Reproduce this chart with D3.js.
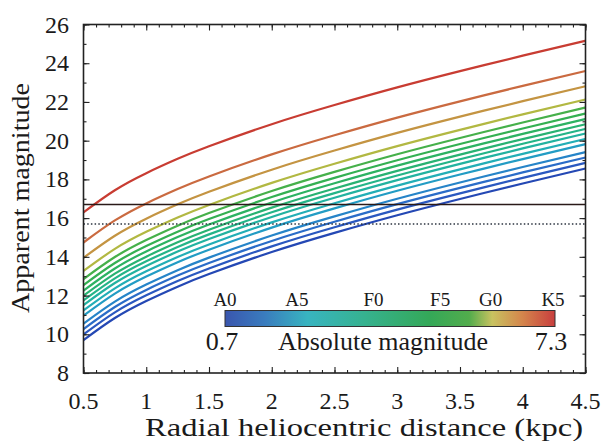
<!DOCTYPE html>
<html>
<head>
<meta charset="utf-8">
<script src="https://cdn.jsdelivr.net/npm/d3@7"></script>
<style>
  html, body { margin: 0; padding: 0; background: #fff; }
  svg { display: block; }
</style>
</head>
<body>
<svg id="chart" width="608" height="441"></svg>
<script>
// Heliocentric distance samples (kpc)
const distanceKpc = [0.5, 0.75, 1, 1.25, 1.5, 2, 2.5, 3, 3.5, 4, 4.5];
// Apparent magnitude of the brightest (A0) track at each sampled distance
const trackA0 = [9.70, 10.84, 11.72, 12.46, 13.11, 14.25, 15.24, 16.15, 16.99, 17.79, 18.56];
// Absolute magnitude of each track, faintest last
const absMag = [0.70, 0.99, 1.27, 1.55, 1.96, 2.23, 2.51, 2.75, 2.99, 3.26, 3.54, 3.85, 4.27, 4.95, 5.74, 7.30];
// Limiting magnitudes (solid / dotted reference levels)
const limitSolid = 16.7;
const limitDotted = 15.7;
// Axis ticks
const xTicks = [0.5, 1, 1.5, 2, 2.5, 3, 3.5, 4, 4.5];
const yTicks = [8, 10, 12, 14, 16, 18, 20, 22, 24, 26];
// Spectral-type markers along the colour bar, with their bar position (0..1)
const specTypes = ["A0", "A5", "F0", "F5", "G0", "K5"];
const specPos = [0.0, 0.218, 0.45, 0.652, 0.805, 0.994];
const barRange = ["0.7", "7.3"];

// Track colours, in the same order as absMag
const lineColors = ["#2448b4", "#2a58c0", "#2a6cc8", "#2684c8", "#229cc4", "#22aeb6",
                    "#22b2a0", "#24b488", "#28b272", "#2cb262", "#34b052", "#46b04a",
                    "#b2b842", "#c49442", "#ca6a40", "#c83c32"];
// Colour-bar gradient stops
const barStops = [
  [0.00, "#3a56ae"], [0.12, "#3a7cbe"], [0.25, "#38b4c0"], [0.42, "#36b290"],
  [0.62, "#34a858"], [0.74, "#52ac4c"], [0.81, "#c8c260"], [0.90, "#d4864c"], [1.00, "#c83e3e"]
];

const FONT = "'Liberation Serif', 'DejaVu Serif', serif";

const svg = d3.select("#chart");
const M = { left: 83.5, right: 585.5, top: 24.5, bottom: 373 };

const x = d3.scaleLinear().domain([0.5, 4.5]).range([M.left, M.right]);
const y = d3.scaleLinear().domain([8, 26]).range([M.bottom, M.top]);

const plot = svg.append("g");

// Tracks
const line = d3.line()
  .x(d => x(d[0]))
  .y(d => y(d[1]))
  .curve(d3.curveNatural);

absMag.forEach((m, i) => {
  const pts = distanceKpc.map((d, k) => [d, trackA0[k] + (m - absMag[0])]);
  plot.append("path")
    .attr("d", line(pts))
    .attr("fill", "none")
    .attr("stroke", lineColors[i])
    .attr("stroke-width", 2.2);
});

// Reference magnitude levels
plot.append("line")
  .attr("x1", x(0.5)).attr("x2", x(4.5))
  .attr("y1", y(limitSolid)).attr("y2", y(limitSolid))
  .attr("stroke", "#2a1a18").attr("stroke-width", 1.6);
plot.append("line")
  .attr("x1", x(0.5)).attr("x2", x(4.5))
  .attr("y1", y(limitDotted)).attr("y2", y(limitDotted))
  .attr("stroke", "#2c3440").attr("stroke-width", 1.5)
  .attr("stroke-dasharray", "1.5,2.2");

// Axes with inward ticks on all four sides
const xMinor = d3.range(5, 46).map(v => v / 10);
const yMinor = d3.range(8, 27);

const axB = d3.axisBottom(x).tickValues(xMinor).tickSize(-3).tickFormat("");
const axT = d3.axisTop(x).tickValues(xMinor).tickSize(-3).tickFormat("");
const axL = d3.axisLeft(y).tickValues(yMinor).tickSize(-3).tickFormat("");
const axR = d3.axisRight(y).tickValues(yMinor).tickSize(-3).tickFormat("");
const axBM = d3.axisBottom(x).tickValues(xTicks).tickSize(-6).tickFormat("");
const axTM = d3.axisTop(x).tickValues(xTicks).tickSize(-6).tickFormat("");
const axLM = d3.axisLeft(y).tickValues(yTicks).tickSize(-6).tickFormat("");
const axRM = d3.axisRight(y).tickValues(yTicks).tickSize(-6).tickFormat("");

function styleAxis(g) {
  g.select(".domain").remove();
  g.selectAll(".tick line").attr("stroke", "#222").attr("stroke-width", 1.1);
}
svg.append("g").attr("transform", `translate(0,${M.bottom})`).call(axB).call(styleAxis);
svg.append("g").attr("transform", `translate(0,${M.top})`).call(axT).call(styleAxis);
svg.append("g").attr("transform", `translate(${M.left},0)`).call(axL).call(styleAxis);
svg.append("g").attr("transform", `translate(${M.right},0)`).call(axR).call(styleAxis);
svg.append("g").attr("transform", `translate(0,${M.bottom})`).call(axBM).call(styleAxis);
svg.append("g").attr("transform", `translate(0,${M.top})`).call(axTM).call(styleAxis);
svg.append("g").attr("transform", `translate(${M.left},0)`).call(axLM).call(styleAxis);
svg.append("g").attr("transform", `translate(${M.right},0)`).call(axRM).call(styleAxis);

// Frame
svg.append("rect")
  .attr("x", M.left).attr("y", M.top)
  .attr("width", M.right - M.left).attr("height", M.bottom - M.top)
  .attr("fill", "none").attr("stroke", "#222").attr("stroke-width", 1.6);

const labels = svg.append("g");

// Tick labels
labels.append("g").selectAll("text").data(xTicks).join("text")
  .attr("x", d => x(d)).attr("y", 409)
  .attr("text-anchor", "middle")
  .style("font-size", "24px")
  .text(d => d3.format("~g")(d));
labels.append("g").selectAll("text").data(yTicks).join("text")
  .attr("x", 69).attr("y", d => y(d) + 8)
  .attr("text-anchor", "end")
  .style("font-size", "24px")
  .text(d => d);

// Axis titles
labels.append("text")
  .attr("x", (145 + 583) / 2).attr("y", 436)
  .attr("text-anchor", "middle")
  .style("font-size", "25px")
  .attr("textLength", 438).attr("lengthAdjust", "spacingAndGlyphs")
  .text("Radial heliocentric distance (kpc)");
labels.append("text")
  .attr("transform", "translate(29,198) rotate(-90)")
  .attr("text-anchor", "middle")
  .style("font-size", "25px")
  .attr("textLength", 230).attr("lengthAdjust", "spacingAndGlyphs")
  .text("Apparent magnitude");

// Colour bar legend
const bar = { x0: 225, x1: 555, y: 310.5, h: 16 };
const grad = svg.append("defs").append("linearGradient")
  .attr("id", "absmag-grad").attr("x1", "0%").attr("x2", "100%");
barStops.forEach(s => grad.append("stop").attr("offset", s[0]).attr("stop-color", s[1]));

const barX = d3.scaleLinear().domain([0, 1]).range([bar.x0, bar.x1]);
svg.append("rect")
  .attr("x", bar.x0).attr("y", bar.y)
  .attr("width", bar.x1 - bar.x0).attr("height", bar.h)
  .attr("fill", "url(#absmag-grad)")
  .attr("stroke", "#333").attr("stroke-width", 1);

labels.append("g").selectAll("text").data(specTypes).join("text")
  .attr("x", (d, i) => barX(specPos[i])).attr("y", 306)
  .attr("text-anchor", "middle")
  .style("font-size", "19px")
  .text(d => d);

labels.append("text").attr("x", 222).attr("y", 350)
  .attr("text-anchor", "middle").style("font-size", "26px").text(barRange[0]);
labels.append("text").attr("x", 551).attr("y", 350)
  .attr("text-anchor", "middle").style("font-size", "26px").text(barRange[1]);
labels.append("text").attr("x", 383).attr("y", 350)
  .attr("text-anchor", "middle").style("font-size", "25px")
  .attr("textLength", 210).attr("lengthAdjust", "spacingAndGlyphs")
  .text("Absolute magnitude");

labels.selectAll("text")
  .style("font-family", FONT)
  .style("fill", "#1a1a1a");
</script>
</body>
</html>
